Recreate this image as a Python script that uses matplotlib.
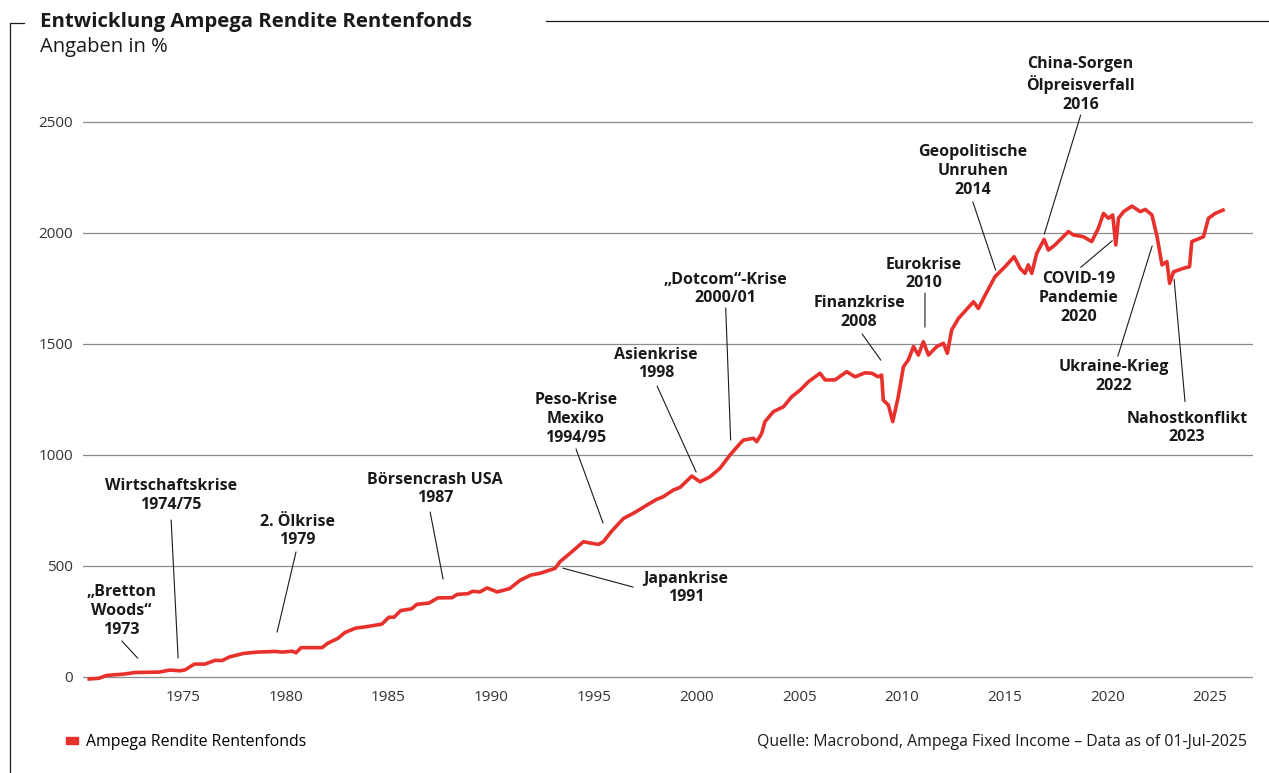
import matplotlib
matplotlib.use("Agg")
import matplotlib.pyplot as plt
from matplotlib.lines import Line2D
from matplotlib.patches import Patch
import numpy as np

plt.rcParams['font.family'] = ['Open Sans', 'DejaVu Sans']

# Wertentwicklung in %
years = [1970.43, 1970.9, 1971.28, 1972.13, 1972.65, 1973.84, 1974.35, 1974.86, 1975.1,
         1975.55, 1976.06, 1976.57, 1976.91, 1977.25, 1977.94, 1978.62, 1979.47, 1979.81,
         1980.32, 1980.5, 1980.75, 1981.77, 1982.03, 1982.54, 1982.88, 1983.4, 1983.9,
         1984.68, 1985.02, 1985.27, 1985.6, 1986.13, 1986.38, 1986.98, 1987.4, 1988.09,
         1988.35, 1988.86, 1989.11, 1989.45, 1989.8, 1990.3, 1990.9, 1991.42, 1991.93,
         1992.38, 1993.11, 1993.35, 1993.84, 1994.49, 1995.22, 1995.46, 1995.87, 1996.44,
         1996.92, 1997.58, 1998.06, 1998.38, 1998.87, 1999.2, 1999.77, 2000.17, 2000.66,
         2001.14, 2001.63, 2002.12, 2002.28, 2002.77, 2002.93, 2003.17, 2003.33, 2003.74,
         2004.23, 2004.63, 2005.04, 2005.45, 2006.01, 2006.26, 2006.74, 2007.31, 2007.72,
         2008.2, 2008.53, 2008.85, 2009.01, 2009.09, 2009.34, 2009.55, 2009.82, 2010.07,
         2010.31, 2010.56, 2010.8, 2011.04, 2011.29, 2011.69, 2012.02, 2012.21, 2012.42,
         2012.75, 2013.48, 2013.72, 2014.05, 2014.53, 2015.02, 2015.46, 2015.75, 2015.99,
         2016.15, 2016.32, 2016.56, 2016.92, 2017.13, 2017.45, 2018.1, 2018.35, 2018.83,
         2019.24, 2019.56, 2019.81, 2020.05, 2020.26, 2020.41, 2020.54, 2020.79, 2021.19,
         2021.6, 2021.85, 2022.17, 2022.42, 2022.66, 2022.9, 2023.03, 2023.22, 2023.71,
         2024.0, 2024.11, 2024.68, 2024.92, 2025.25, 2025.63]
values = [-11, -8, 5, 11, 18, 20, 29, 26, 30,
          56, 56, 73, 72, 88, 104, 110, 113, 110,
          114, 107, 130, 130, 149, 172, 198, 218, 224,
          236, 267, 267, 297, 305, 325, 331, 354, 355,
          370, 373, 384, 381, 399, 381, 396, 434, 457,
          465, 487, 517, 555, 607, 595, 607, 655, 712,
          735, 772, 798, 810, 840, 852, 903, 877, 900,
          938, 998, 1050, 1065, 1073, 1058, 1095, 1148, 1193,
          1215, 1260, 1290, 1328, 1366, 1336, 1336, 1373, 1350,
          1368, 1366, 1350, 1358, 1245, 1223, 1148, 1260, 1395,
          1426, 1486, 1448, 1508, 1448, 1486, 1501, 1456, 1561,
          1613, 1688, 1658, 1718, 1801, 1846, 1891, 1839, 1816,
          1854, 1816, 1906, 1969, 1921, 1944, 2004, 1989, 1981,
          1959, 2019, 2086, 2064, 2079, 1944, 2064, 2094, 2119,
          2094, 2104, 2079, 1981, 1854, 1869, 1771, 1823, 1839,
          1846, 1959, 1981, 2064, 2086, 2101]

event_labels = ["„Bretton\nWoods“\n1973", "Wirtschaftskrise\n1974/75", "2. Ölkrise\n1979",
                "Börsencrash USA\n1987", "Japankrise\n1991", "Peso-Krise\nMexiko\n1994/95",
                "Asienkrise\n1998", "„Dotcom“-Krise\n2000/01", "Finanzkrise\n2008",
                "Eurokrise\n2010", "Geopolitische\nUnruhen\n2014",
                "China-Sorgen\nÖlpreisverfall\n2016", "COVID-19\nPandemie\n2020",
                "Ukraine-Krieg\n2022", "Nahostkonflikt\n2023"]

# Layout der Beschriftungen: Textmitte, Linienanfang, Linienende (Datenkoordinaten)
label_pos = [(1971.98, 295), (1974.42, 815), (1980.55, 655), (1987.27, 845), (1999.49, 399),
             (1994.13, 1160), (1998.03, 1407), (2001.39, 1745), (2007.91, 1639), (2011.08, 1813),
             (2013.45, 2277), (2018.70, 2666), (2018.62, 1705), (2020.33, 1351), (2023.88, 1119)]
leader_from = [(1972.02, 160), (1974.42, 705), (1980.50, 561), (1987.03, 741), (1993.50, 488),
               (1994.13, 1025), (1998.08, 1308), (2001.42, 1660), (2008.06, 1543), (2011.12, 1727),
               (2013.45, 2138), (2018.70, 2529), (2018.70, 1843), (2020.51, 1443), (2023.78, 1238)]
leader_to = [(1972.79, 83), (1974.76, 83), (1979.58, 200), (1987.66, 439), (1996.91, 403),
             (1995.45, 691), (1999.98, 921), (2001.66, 1065), (2008.97, 1425), (2011.12, 1574),
             (2014.56, 1831), (2016.93, 1993), (2020.24, 1963), (2022.18, 1939), (2023.25, 1789)]

red = '#e8302c'
ink = '#1a1a1a'
W, H = 1269, 773

fig = plt.figure(figsize=(W / 100, H / 100), dpi=100)
ax = fig.add_axes([83 / W, 1 - 685.4 / H, (1253 - 83) / W, (685.4 - 66) / H])

ax.plot(years, values, color=red, lw=2.6, solid_joinstyle='round', zorder=3)

ax.set_xlim(1970.13, 2027.09)
ax.set_ylim(-40, 2750)
ax.set_yticks([0, 500, 1000, 1500, 2000, 2500])
ax.set_xticks(np.arange(1975, 2026, 5))
ax.grid(axis='y', color='#8c8c8c', lw=0.9)
ax.set_axisbelow(True)
for s in ax.spines.values():
    s.set_visible(False)
ax.tick_params(length=0, labelsize=11, colors='#333333')
ax.tick_params(axis='y', pad=7)
ax.tick_params(axis='x', pad=3)

for txt, tp, lf, lt in zip(event_labels, label_pos, leader_from, leader_to):
    ax.text(tp[0], tp[1], txt, ha='center', va='center', fontsize=11.5, fontweight='bold',
            color=ink, linespacing=1.22, zorder=4)
    ax.annotate('', xy=lt, xytext=lf,
                arrowprops=dict(arrowstyle='-', color=ink, lw=0.8, shrinkA=0, shrinkB=0))

# Titel und Rahmen
fig.text(40 / W, 1 - 22 / H, "Entwicklung Ampega Rendite Rentenfonds", fontsize=14.7,
         fontweight='bold', color=ink, va='center', ha='left')
fig.text(40 / W, 1 - 47 / H, "Angaben in %", fontsize=14.5, color=ink, va='center', ha='left')
fig.add_artist(Line2D([24 / W, 10 / W, 10 / W], [1 - 23 / H, 1 - 23 / H, 0],
                      color=ink, lw=0.9))
fig.add_artist(Line2D([546 / W, 1], [1 - 21 / H, 1 - 21 / H], color=ink, lw=0.9))

fig.legend(handles=[Patch(color=red, label="Ampega Rendite Rentenfonds")],
           loc='center left', bbox_to_anchor=(66 / W, 1 - 742 / H), frameon=False,
           handlelength=0.75, handleheight=0.35, handletextpad=0.5, fontsize=11.4,
           borderaxespad=0, borderpad=0)
fig.text(1247 / W, 1 - 742 / H, "Quelle: Macrobond, Ampega Fixed Income – Data as of 01-Jul-2025",
         fontsize=11.4, color=ink, ha='right', va='center')

fig.savefig("out.png", dpi=100)
